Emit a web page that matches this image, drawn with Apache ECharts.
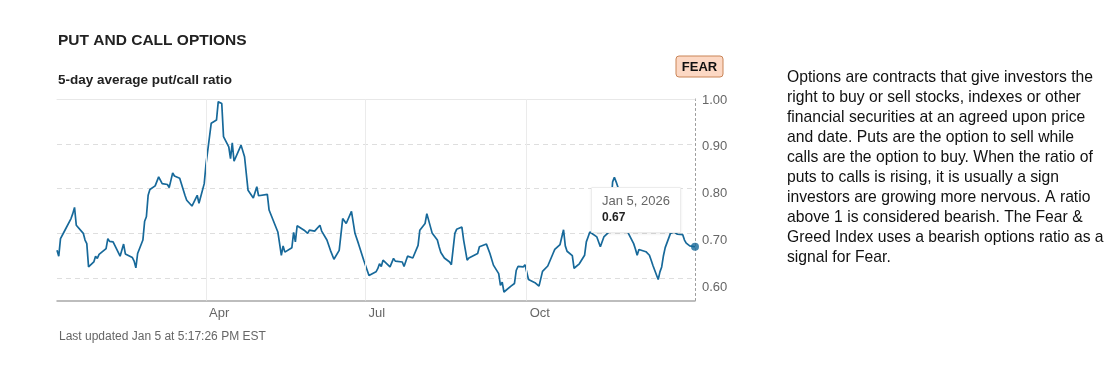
<!DOCTYPE html>
<html><head><meta charset="utf-8">
<script src="https://cdn.jsdelivr.net/npm/echarts@6/dist/echarts.min.js"></script>
<style>html,body{margin:0;padding:0;background:#fff}#c{width:1113px;height:369px}</style>
</head><body><div id="c"></div>
<script>
const dates = [
'2025-01-06','2025-01-07','2025-01-08','2025-01-10','2025-01-14','2025-01-15','2025-01-16','2025-01-17','2025-01-21','2025-01-22',
'2025-01-23','2025-01-24','2025-01-27','2025-01-28','2025-01-29','2025-01-30','2025-01-31','2025-02-03','2025-02-04','2025-02-05',
'2025-02-07','2025-02-11','2025-02-13','2025-02-14','2025-02-18','2025-02-19','2025-02-20','2025-02-21','2025-02-24','2025-02-25',
'2025-02-26','2025-02-27','2025-02-28','2025-03-03','2025-03-05','2025-03-07','2025-03-10','2025-03-11','2025-03-13','2025-03-14',
'2025-03-17','2025-03-20','2025-03-21','2025-03-24','2025-03-27','2025-03-28','2025-03-31','2025-04-01','2025-04-02','2025-04-04',
'2025-04-07','2025-04-08','2025-04-09','2025-04-10','2025-04-11','2025-04-14','2025-04-15','2025-04-16','2025-04-17','2025-04-21',
'2025-04-23','2025-04-25','2025-04-28','2025-04-30','2025-05-01','2025-05-06','2025-05-07','2025-05-12','2025-05-14','2025-05-15',
'2025-05-16','2025-05-20','2025-05-21','2025-05-22','2025-05-23','2025-05-27','2025-05-28','2025-05-29','2025-05-30','2025-06-02',
'2025-06-03','2025-06-05','2025-06-06','2025-06-09','2025-06-11','2025-06-13','2025-06-16','2025-06-18','2025-06-20','2025-06-23',
'2025-06-24','2025-06-25','2025-06-27','2025-06-30','2025-07-03','2025-07-07','2025-07-08','2025-07-09','2025-07-10','2025-07-11',
'2025-07-15','2025-07-17','2025-07-18','2025-07-22','2025-07-23','2025-07-25','2025-07-28','2025-07-31','2025-08-01','2025-08-04',
'2025-08-05','2025-08-06','2025-08-08','2025-08-11','2025-08-12','2025-08-13','2025-08-15','2025-08-18','2025-08-19','2025-08-21',
'2025-08-22','2025-08-25','2025-08-26','2025-08-28','2025-08-29','2025-09-03','2025-09-04','2025-09-05','2025-09-08','2025-09-10',
'2025-09-12','2025-09-15','2025-09-16','2025-09-17','2025-09-18','2025-09-19','2025-09-22','2025-09-24','2025-09-25','2025-09-26',
'2025-09-29','2025-09-30','2025-10-02','2025-10-06','2025-10-08','2025-10-10','2025-10-13','2025-10-14','2025-10-16','2025-10-17',
'2025-10-20','2025-10-22','2025-10-23','2025-10-24','2025-10-27','2025-10-28','2025-10-31','2025-11-03','2025-11-04','2025-11-05',
'2025-11-06','2025-11-07','2025-11-10','2025-11-12','2025-11-13','2025-11-14','2025-11-17','2025-11-18','2025-11-19','2025-11-20',
'2025-11-21','2025-11-24','2025-11-25','2025-11-26','2025-11-28','2025-12-01','2025-12-02','2025-12-03','2025-12-04','2025-12-05',
'2025-12-08','2025-12-09','2025-12-10','2025-12-11','2025-12-12','2025-12-15','2025-12-16','2025-12-17','2025-12-18','2025-12-19',
'2025-12-22','2025-12-23','2025-12-24','2025-12-26','2025-12-29','2025-12-30','2025-12-31','2026-01-02','2026-01-05'
];
const ratios = [
0.662,0.649,0.688,0.703,0.733,0.744,0.758,0.718,0.700,0.685,
0.677,0.625,0.636,0.649,0.644,0.653,0.649,0.666,0.688,0.682,
0.681,0.649,0.676,0.654,0.646,0.638,0.623,0.655,0.685,0.727,
0.737,0.785,0.798,0.806,0.826,0.811,0.809,0.802,0.835,0.828,
0.823,0.785,0.774,0.761,0.785,0.767,0.811,0.854,0.856,0.946,
0.953,0.994,0.998,0.990,0.916,0.893,0.867,0.902,0.861,0.897,
0.871,0.796,0.779,0.804,0.784,0.787,0.752,0.703,0.651,0.672,
0.658,0.668,0.702,0.681,0.717,0.707,0.709,0.700,0.707,0.705,
0.709,0.718,0.705,0.685,0.662,0.642,0.662,0.733,0.722,0.749,
0.746,0.700,0.677,0.640,0.606,0.614,0.621,0.632,0.626,0.640,
0.625,0.644,0.638,0.636,0.626,0.649,0.645,0.673,0.707,0.722,
0.744,0.742,0.701,0.685,0.670,0.657,0.645,0.636,0.630,0.700,
0.709,0.714,0.685,0.640,0.645,0.655,0.670,0.670,0.676,0.655,
0.629,0.610,0.584,0.591,0.569,0.573,0.582,0.588,0.617,0.626,
0.625,0.630,0.597,0.589,0.582,0.615,0.627,0.630,0.655,0.664,
0.675,0.708,0.672,0.660,0.650,0.622,0.632,0.651,0.681,0.692,
0.703,0.700,0.692,0.670,0.670,0.692,0.703,0.760,0.815,0.825,
0.815,0.780,0.755,0.730,0.700,0.677,0.665,0.651,0.664,0.662,
0.659,0.655,0.651,0.640,0.628,0.597,0.614,0.625,0.650,0.668,
0.700,0.703,0.703,0.698,0.697,0.685,0.678,0.672,0.670
];
const yTicks = [0.6, 0.7, 0.8, 0.9, 1.0];
const monthTicks = ['2025-04-01', '2025-07-01', '2025-10-01'];
const monthLabels = ['Apr', 'Jul', 'Oct'];
const titleText = 'PUT AND CALL OPTIONS';
const subtitleText = '5-day average put/call ratio';
const badgeText = 'FEAR';
const footerText = 'Last updated Jan 5 at 5:17:26 PM EST';
const noteLines = [
'Options are contracts that give investors the',
'right to buy or sell stocks, indexes or other',
'financial securities at an agreed upon price',
'and date. Puts are the option to sell while',
'calls are the option to buy. When the ratio of',
'puts to calls is rising, it is usually a sign',
'investors are growing more nervous. A ratio',
'above 1 is considered bearish. The Fear &',
'Greed Index uses a bearish options ratio as a',
'signal for Fear.'
];

const MONTHS = ['Jan','Feb','Mar','Apr','May','Jun','Jul','Aug','Sep','Oct','Nov','Dec'];
function ts(s) { const p = s.split('-').map(Number); return new Date(p[0], p[1] - 1, p[2]).getTime(); }
function fmtDate(s) { const p = s.split('-').map(Number); return MONTHS[p[1] - 1] + ' ' + p[2] + ', ' + p[0]; }

const LINE = '#17699a';
const FONT = '"Liberation Sans", Arial, sans-serif';
const seriesData = dates.map((d, i) => [ts(d), ratios[i]]);
const last = dates.length - 1;
const monthTs = monthTicks.map(ts);

const chart = echarts.init(document.getElementById('c'), null, { renderer: 'canvas' });
chart.setOption({
  animation: false,
  textStyle: { fontFamily: FONT },
  grid: { left: 57, right: 418, top: 99, bottom: 68.5, containLabel: false, outerBoundsMode: 'none' },
  xAxis: [{
    type: 'value', min: ts(dates[0]), max: ts(dates[last]),
    axisLine: { show: true, lineStyle: { color: '#a8a8a8', width: 1.5 } },
    axisTick: { show: false },
    splitLine: { show: false },
    axisLabel: {
      customValues: monthTs, hideOverlap: false,
      formatter: v => { const i = monthTs.indexOf(v); return i >= 0 ? monthLabels[i] : ''; },
      color: '#666', fontSize: 13, fontFamily: FONT, align: 'left', margin: 6, padding: [0, 0, 0, 3]
    }
  }, {
    type: 'value', position: 'top', min: ts(dates[0]), max: ts(dates[last]),
    axisLine: { show: true, lineStyle: { color: '#e8e8e8', width: 1 } },
    axisTick: { show: false }, axisLabel: { show: false }, splitLine: { show: false }
  }],
  yAxis: [{
    type: 'value', position: 'right', min: 0.55, max: 1.0, interval: 0.05,
    axisLine: { show: true, lineStyle: { color: '#9a9a9a', type: [2, 3], width: 1 } },
    axisTick: { show: false }, axisLabel: { show: false },
    splitLine: { show: true, lineStyle: { color: ['rgba(0,0,0,0)', '#dedede'], type: [5, 4], width: 1 } }
  }, {
    type: 'value', position: 'right', min: 0.57112, max: 1.00214, offset: 0,
    axisLine: { show: false }, axisTick: { show: false }, splitLine: { show: false },
    axisLabel: {
      customValues: yTicks, hideOverlap: false,
      formatter: v => v.toFixed(2), color: '#666', fontSize: 13, fontFamily: FONT, margin: 7
    }
  }],
  tooltip: {
    trigger: 'item', triggerOn: 'none', alwaysShowContent: true, transitionDuration: 0,
    position: [591, 187],
    backgroundColor: '#fff', borderColor: '#ececec', borderWidth: 1, padding: [4, 10, 6, 10],
    extraCssText: 'box-shadow:0 1px 3px rgba(0,0,0,0.08);border-radius:1px;width:68px;',
    formatter: () => '<div style="font:13px/17px ' + FONT.replace(/"/g, "'") + ';color:#666">' + fmtDate(dates[last]) + '</div>' +
      '<div style="font:bold 12px/17px ' + FONT.replace(/"/g, "'") + ';color:#222">' + ratios[last].toFixed(2) + '</div>'
  },
  graphic: [
    { type: 'text', x: 58, y: 41, style: { text: titleText, font: 'bold 15.5px ' + FONT, fill: '#222', verticalAlign: 'middle' } },
    { type: 'text', x: 58, y: 80, style: { text: subtitleText, font: 'bold 13.5px ' + FONT, fill: '#222', verticalAlign: 'middle' } },
    { type: 'rect', shape: { x: 676, y: 56, width: 47, height: 21, r: 3 }, style: { fill: '#fcd8c4', stroke: '#c98457', lineWidth: 1 } },
    { type: 'text', x: 699.5, y: 67, style: { text: badgeText, font: 'bold 13px ' + FONT, fill: '#111', align: 'center', verticalAlign: 'middle' } },
    { type: 'text', x: 59, y: 337, style: { text: footerText, font: '12px ' + FONT, fill: '#666', verticalAlign: 'middle' } },
    { type: 'text', x: 787, y: 68, style: { text: noteLines.join('\n'), font: '15.7px ' + FONT, lineHeight: 20, fill: '#111', verticalAlign: 'top' } }
  ],
  series: [{
    type: 'line', data: [], z: 1, silent: true,
    markLine: {
      silent: true, symbol: 'none', label: { show: false },
      lineStyle: { color: '#ebebeb', type: 'solid', width: 1 },
      data: monthTs.map(m => ({ xAxis: m }))
    }
  }, {
    type: 'line', data: seriesData, showSymbol: false, symbol: 'none', z: 3, silent: true,
    lineStyle: { color: LINE, width: 1.7 }
  }, {
    type: 'scatter', data: [seriesData[last]], symbolSize: 8, z: 4,
    itemStyle: { color: LINE }, emphasis: { disabled: true }
  }]
});
chart.dispatchAction({ type: 'showTip', seriesIndex: 2, dataIndex: 0 });
</script>
</body></html>
